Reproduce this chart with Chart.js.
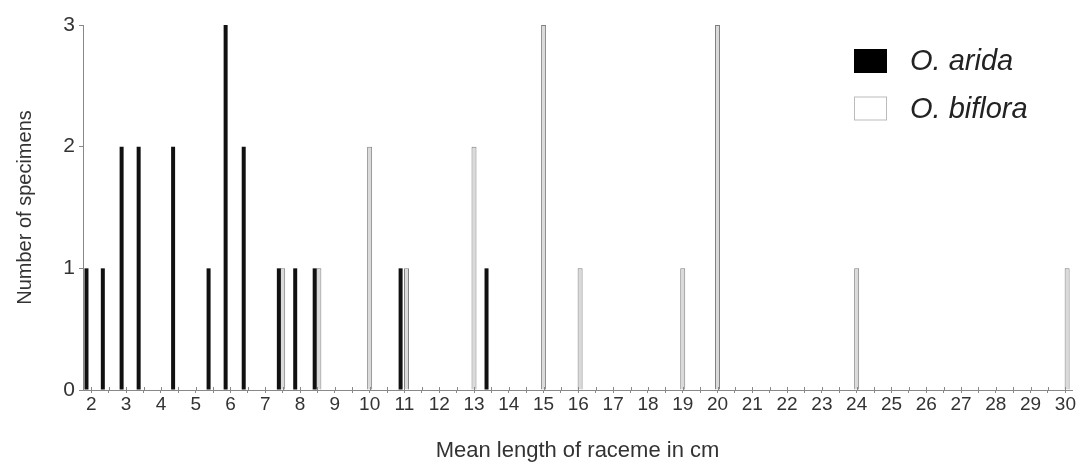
<!DOCTYPE html>
<html>
<head>
<meta charset="utf-8">
<script src="https://cdn.jsdelivr.net/npm/chart.js@4"></script>
<style>
html,body{margin:0;padding:0;background:#fff;}
#wrap{width:1082px;height:464px;position:relative;}
</style>
</head>
<body>
<div id="wrap"><canvas id="c"></canvas></div>
<script>
// Mean raceme length (cm) and number of specimens
const aridaLengths = [1.86, 2.33, 2.87, 3.36, 4.35, 5.37, 5.86, 6.38, 7.39, 7.86, 8.42, 10.89, 13.36];
const aridaCounts  = [1,    1,    2,    2,    2,    1,    3,    2,    1,    1,    1,    1,     1];
const bifloraLengths = [7.50, 8.54, 10.0, 11.06, 13.0, 15.0, 16.05, 19.0, 20.0, 24.0, 30.05];
const bifloraCounts  = [1,    1,    2,    1,     2,    3,    1,     1,    3,    1,    1];
const xTickLabels = [2,3,4,5,6,7,8,9,10,11,12,13,14,15,16,17,18,19,20,21,22,23,24,25,26,27,28,29,30];
const yTickLabels = [0,1,2,3];
const seriesNames = ['O. arida', 'O. biflora'];

const FONT = '"Liberation Sans", Arial, Helvetica, sans-serif';

const legendPlugin = {
  id: 'customLegend',
  afterDraw(chart) {
    const ctx = chart.ctx;
    const ca = chart.chartArea;
    const x0 = ca.right - 218;
    const rows = [61, 108.5];
    ctx.save();
    chart.data.datasets.forEach((ds, i) => {
      const cy = rows[i];
      ctx.fillStyle = ds.legendFill;
      ctx.fillRect(x0, cy - 12, 33, 24);
      ctx.strokeStyle = ds.legendStroke;
      ctx.lineWidth = 1;
      ctx.strokeRect(x0 + 0.5, cy - 11.5, 32, 23);
      ctx.fillStyle = '#222';
      ctx.font = 'italic 29px ' + FONT;
      ctx.textBaseline = 'middle';
      ctx.textAlign = 'left';
      ctx.fillText(ds.label, x0 + 56, cy + 1);
    });
    ctx.restore();
  }
};

// small tick marks that also cross above the x axis line
const crossTicks = {
  id: 'crossTicks',
  afterDraw(chart) {
    const ctx = chart.ctx;
    const xs = chart.scales.x;
    const y0 = chart.chartArea.bottom;
    ctx.save();
    ctx.strokeStyle = '#888';
    ctx.lineWidth = 1;
    ctx.beginPath();
    xs.ticks.forEach(t => {
      const px = Math.round(xs.getPixelForValue(t.value)) + 0.5;
      ctx.moveTo(px, y0 - 3);
      ctx.lineTo(px, y0);
    });
    ctx.stroke();
    ctx.restore();
  }
};

new Chart(document.getElementById('c'), {
  type: 'bar',
  data: {
    datasets: [
      {
        label: seriesNames[0],
        data: aridaLengths.map((x, i) => ({x: x, y: aridaCounts[i]})),
        backgroundColor: '#111',
        borderColor: '#111',
        borderWidth: 0,
        grouped: false,
        barPercentage: 2,
        categoryPercentage: 1,
        maxBarThickness: 4,
        legendFill: '#000',
        legendStroke: '#000'
      },
      {
        label: seriesNames[1],
        data: bifloraLengths.map((x, i) => ({x: x, y: bifloraCounts[i]})),
        backgroundColor: '#dadada',
        borderColor: '#808080',
        borderWidth: 1,
        grouped: false,
        barPercentage: 2,
        categoryPercentage: 1,
        maxBarThickness: 5,
        legendFill: '#fff',
        legendStroke: '#bbb'
      }
    ]
  },
  options: {
    responsive: true,
    maintainAspectRatio: false,
    animation: false,
    layout: {padding: {left: 0, right: 10, top: 25, bottom: 0}},
    plugins: {
      legend: {display: false},
      tooltip: {enabled: false}
    },
    scales: {
      x: {
        type: 'linear',
        offset: false,
        min: 1.76,
        max: 30.19,
        afterBuildTicks(scale) {
          const t = [];
          for (let i = 0; i < xTickLabels.length; i++) {
            t.push({value: xTickLabels[i]});
            if (i < xTickLabels.length - 1) t.push({value: xTickLabels[i] + 0.5});
          }
          scale.ticks = t;
        },
        afterFit(scale) { scale.height = 74; },
        ticks: {
          autoSkip: false,
          maxRotation: 0,
          padding: 0,
          color: '#333',
          font: {family: FONT, size: 19},
          callback(v) { return Number.isInteger(v) ? String(v) : ''; }
        },
        grid: {drawOnChartArea: false, tickLength: 3, color: '#888', lineWidth: 1, offset: false},
        border: {color: '#888', width: 1},
        title: {
          display: true,
          text: 'Mean length of raceme in cm',
          color: '#333',
          font: {family: FONT, size: 22},
          padding: {top: 0, bottom: 0}
        }
      },
      y: {
        min: 0,
        max: 3,
        afterBuildTicks(scale) { scale.ticks = yTickLabels.map(v => ({value: v})); },
        afterFit(scale) { scale.width = 83; },
        ticks: {
          padding: 4,
          color: '#333',
          font: {family: FONT, size: 21}
        },
        grid: {drawOnChartArea: false, tickLength: 4, color: '#888', lineWidth: 1},
        border: {color: '#888', width: 1},
        title: {
          display: true,
          text: 'Number of specimens',
          color: '#333',
          font: {family: FONT, size: 20},
          padding: {top: 13, bottom: 0}
        }
      }
    }
  },
  plugins: [legendPlugin, crossTicks]
});
</script>
</body>
</html>
